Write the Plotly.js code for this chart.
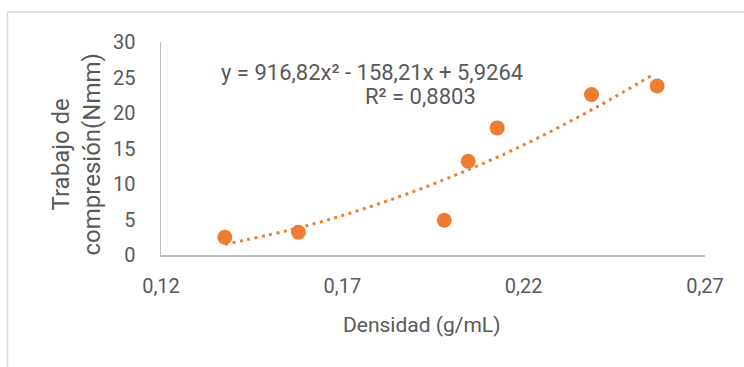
<!DOCTYPE html>
<html>
<head>
<meta charset="utf-8">
<script src="https://cdn.plot.ly/plotly-3.0.1.min.js"></script>
<style>
html,body{margin:0;padding:0;background:#fff;}
#chart{width:744px;height:367px;}
</style>
</head>
<body>
<div id="chart"></div>
<script>
// Data
const densidad = [0.1376, 0.1579, 0.1981, 0.2047, 0.2127, 0.2387, 0.2568];
const trabajo = [2.5, 3.2, 4.9, 13.2, 17.9, 22.6, 23.8];
// Polynomial trend line points
const trendX = [0.1376, 0.16, 0.18, 0.20, 0.22, 0.24, 0.2560];
const trendY = [1.5, 4.1, 7.2, 11.0, 15.5, 20.8, 25.5];
const xTicks = [0.12, 0.17, 0.22, 0.27];
const yTicks = [0, 5, 10, 15, 20, 25, 30];
const equationText = 'y = 916,82x² - 158,21x + 5,9264';
const r2Text = 'R² = 0,8803';
const xTitle = 'Densidad (g/mL)';
const yTitle = 'Trabajo de<br>compresión(Nmm)';

const W = 744, H = 367;
const M = {l: 161, r: 39, t: 42, b: 112};
const pw = W - M.l - M.r, ph = H - M.t - M.b;
const px = p => (p - M.l) / pw;      // pixel x -> paper x
const py = p => (H - M.b - p) / ph;  // pixel y -> paper y

const orange = '#ED7D31';
const grey = '#595959';
const font = 'Roboto, "Open Sans", sans-serif';

const traces = [
  {
    x: trendX, y: trendY, type: 'scatter', mode: 'lines',
    line: {color: orange, width: 3, dash: '3px,4.5px', shape: 'spline'},
    hoverinfo: 'skip', showlegend: false
  },
  {
    x: densidad, y: trabajo, type: 'scatter', mode: 'markers',
    marker: {color: orange, size: 15, line: {width: 0}},
    showlegend: false
  }
];

const layout = {
  width: W, height: H,
  margin: M,
  paper_bgcolor: '#fff', plot_bgcolor: '#fff',
  separators: ', ',
  showlegend: false,
  xaxis: {
    range: [0.12, 0.27], tickvals: xTicks, tickformat: '.2f',
    showgrid: false, zeroline: false,
    showline: true, linecolor: '#bfbfbf', linewidth: 1.5,
    ticks: '', ticklabelstandoff: 12,
    tickfont: {family: font, size: 20, color: grey}
  },
  yaxis: {
    range: [0, 30], tickvals: yTicks,
    showgrid: false, zeroline: false,
    showline: true, linecolor: '#bfbfbf', linewidth: 1.5,
    ticks: '', ticklabelstandoff: 20,
    tickfont: {family: font, size: 20, color: grey}
  },
  annotations: [
    {text: equationText, xref: 'paper', yref: 'paper', x: px(372), y: py(72.5),
     xanchor: 'center', yanchor: 'middle', showarrow: false,
     font: {family: font, size: 22, color: grey}},
    {text: r2Text, xref: 'paper', yref: 'paper', x: px(420), y: py(96),
     xanchor: 'center', yanchor: 'middle', showarrow: false,
     font: {family: font, size: 22, color: grey}},
    {text: xTitle, xref: 'paper', yref: 'paper', x: px(421), y: py(325),
     xanchor: 'center', yanchor: 'middle', showarrow: false,
     font: {family: font, size: 21, color: grey}},
    {text: yTitle, xref: 'paper', yref: 'paper', x: px(75.5), y: py(155),
     xanchor: 'center', yanchor: 'middle', showarrow: false, textangle: -90,
     font: {family: font, size: 24, color: grey}}
  ],
  shapes: [
    {type: 'line', xref: 'paper', yref: 'paper', x0: px(7.5), x1: px(760), y0: py(12), y1: py(12),
     line: {color: '#d9d9d9', width: 1.5}},
    {type: 'line', xref: 'paper', yref: 'paper', x0: px(7.5), x1: px(7.5), y0: py(12), y1: py(380),
     line: {color: '#d9d9d9', width: 1.5}}
  ]
};

Plotly.newPlot('chart', traces, layout, {displayModeBar: false, staticPlot: true});
</script>
</body>
</html>
